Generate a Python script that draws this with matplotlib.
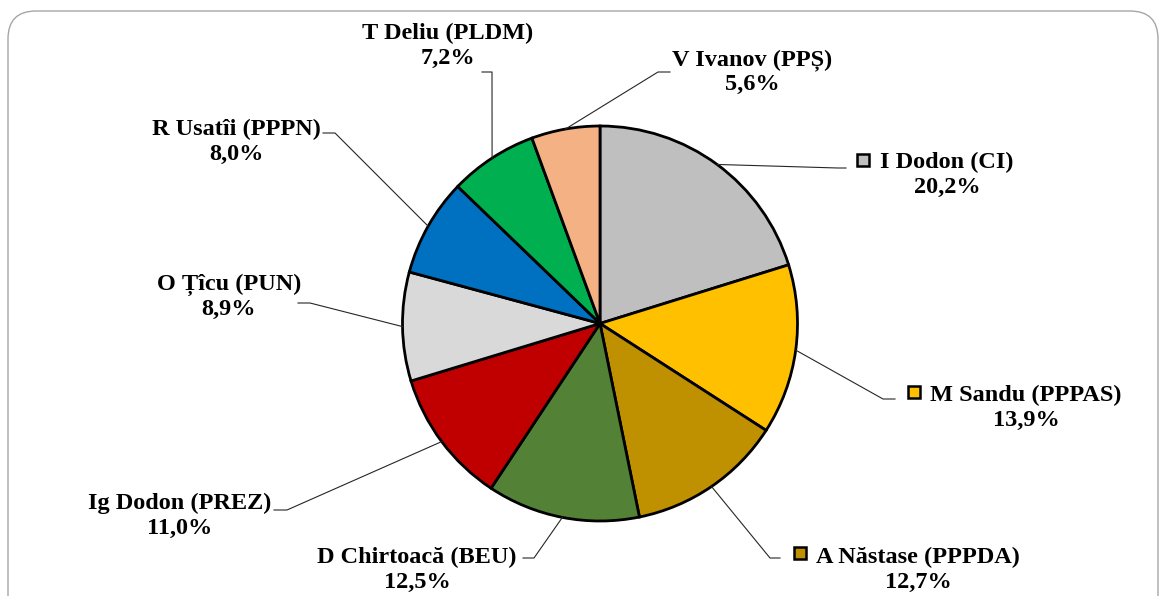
import numpy as np
import matplotlib
matplotlib.use('Agg')
from matplotlib import pyplot as plt
from matplotlib.patches import FancyBboxPatch, Rectangle

plt.rcParams['font.family'] = ['Liberation Serif', 'DejaVu Serif']

# data
names = ['I Dodon (CI)', 'M Sandu (PPPAS)', 'A Năstase (PPPDA)', 'D Chirtoacă (BEU)',
         'Ig Dodon (PREZ)', 'O Țîcu (PUN)', 'R Usatîi (PPPN)', 'T Deliu (PLDM)', 'V Ivanov (PPȘ)']
shares = [20.2, 13.9, 12.7, 12.5, 11.0, 8.9, 8.0, 7.2, 5.6]
colors = ['#BFBFBF', '#FFC000', '#BF9000', '#538135', '#C00000',
          '#D9D9D9', '#0070C0', '#00B050', '#F4B183']

# layout (pixel coords): label centre, leader elbow, leader end, legend key
label_xy = [(947, 175), (1026, 408), (918, 570), (417, 570), (180, 516),
            (229, 297), (236, 142), (448, 46), (752, 72)]
elbow_xy = [(838, 168), (883, 399), (770, 558), (534, 558), (287, 510),
            (310, 303), (335, 133), (492, 72), (658, 72)]
end_xy = [(846, 168), (895, 399), (780, 558), (523, 558), (274, 510),
          (298, 303), (323, 133), (482, 72), (670, 72)]
key_xy = {0: (863, 160), 1: (914, 392), 2: (800, 553)}

W, H = 1163, 596
fig = plt.figure(figsize=(W/100, H/100), dpi=100)
ax = fig.add_axes([0, 0, 1, 1])

# rounded frame
frame = FancyBboxPatch((8, 11), 1150, 620, boxstyle='round,pad=0,rounding_size=28',
                       fc='white', ec='#A6A6A6', lw=1.0, zorder=0)
ax.add_patch(frame)

cx, cy, r = 600, 323.5, 197.5
wedges, _ = ax.pie(shares, colors=colors, center=(cx, cy), radius=r,
                   startangle=-90, counterclock=True, frame=True,
                   wedgeprops=dict(edgecolor='black', linewidth=2.0))
ax.set_xlim(0, W)
ax.set_ylim(H, 0)
ax.set_aspect('equal')
ax.axis('off')

for i, w in enumerate(wedges):
    mid = np.deg2rad((w.theta1 + w.theta2) / 2)
    sx, sy = cx + r*np.cos(mid), cy + r*np.sin(mid)
    ex, ey = elbow_xy[i]
    fx, fy = end_xy[i]
    ax.plot([sx, ex, fx], [sy, ey, fy], color='#262626', lw=0.8, zorder=1)
    pct = ('%.1f%%' % shares[i]).replace('.', ',')
    ax.text(label_xy[i][0], label_xy[i][1], names[i] + '\n' + pct,
            ha='center', va='center', fontsize=17.5, fontweight='bold',
            linespacing=1.2, color='black')
    if i in key_xy:
        kx, ky = key_xy[i]
        ax.add_patch(Rectangle((kx-6, ky-6), 12, 12, fc=colors[i],
                               ec='black', lw=1.8, zorder=3))

fig.savefig('out.png', dpi=100)
